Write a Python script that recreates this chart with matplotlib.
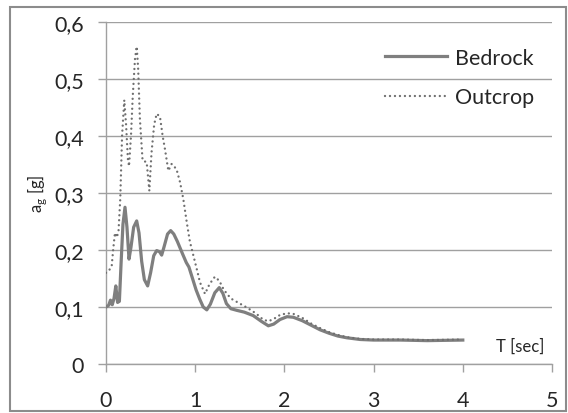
import numpy as np
import matplotlib
matplotlib.use('Agg')
import matplotlib.pyplot as plt
from matplotlib.patches import Rectangle

plt.rcParams['font.family'] = ['Lato', 'DejaVu Sans']

# ---------------- data ----------------
bedrock_T = [0.00, 0.03, 0.05, 0.07, 0.09, 0.11, 0.13, 0.15, 0.17, 0.19,
             0.213, 0.235, 0.258, 0.28, 0.31, 0.344, 0.37, 0.40, 0.43, 0.467,
             0.50, 0.535, 0.568, 0.60, 0.624, 0.65, 0.69, 0.725, 0.76, 0.80,
             0.84, 0.867, 0.90, 0.93, 0.97, 1.01, 1.05, 1.09, 1.13, 1.17,
             1.22, 1.27, 1.31, 1.35, 1.40, 1.47, 1.55, 1.65, 1.74, 1.82,
             1.88, 1.95, 2.03, 2.10, 2.20, 2.30, 2.40, 2.50, 2.60, 2.70,
             2.85, 3.00, 3.30, 3.60, 4.00]
bedrock_a = [0.100, 0.103, 0.112, 0.104, 0.115, 0.137, 0.108, 0.110, 0.180, 0.245,
             0.275, 0.240, 0.184, 0.205, 0.240, 0.251, 0.230, 0.180, 0.148, 0.137,
             0.160, 0.190, 0.199, 0.197, 0.191, 0.205, 0.228, 0.234, 0.228, 0.215,
             0.200, 0.190, 0.178, 0.170, 0.150, 0.130, 0.114, 0.100, 0.095, 0.105,
             0.125, 0.134, 0.124, 0.106, 0.097, 0.094, 0.091, 0.085, 0.075, 0.067,
             0.070, 0.078, 0.083, 0.082, 0.076, 0.068, 0.060, 0.054, 0.049, 0.046,
             0.043, 0.042, 0.042, 0.041, 0.042]

outcrop_T = [0.00, 0.03, 0.064, 0.08, 0.10, 0.12, 0.14, 0.16, 0.18, 0.205,
             0.225, 0.245, 0.258, 0.28, 0.30, 0.325, 0.344, 0.36, 0.38, 0.41,
             0.456, 0.486, 0.51, 0.54, 0.568, 0.605, 0.635, 0.661, 0.699, 0.736,
             0.79, 0.83, 0.867, 0.905, 0.94, 0.98, 1.02, 1.054, 1.11, 1.16,
             1.22, 1.27, 1.315, 1.36, 1.41, 1.50, 1.58, 1.65, 1.71, 1.76,
             1.82, 1.88, 1.95, 2.03, 2.10, 2.20, 2.30, 2.40, 2.50, 2.60,
             2.70, 2.85, 3.00, 3.30, 3.60, 4.00]
outcrop_a = [0.160, 0.163, 0.172, 0.200, 0.230, 0.222, 0.232, 0.290, 0.400, 0.463,
             0.420, 0.360, 0.347, 0.400, 0.470, 0.535, 0.557, 0.520, 0.430, 0.357,
             0.354, 0.304, 0.370, 0.420, 0.439, 0.434, 0.400, 0.377, 0.339, 0.351,
             0.342, 0.319, 0.289, 0.249, 0.215, 0.190, 0.165, 0.143, 0.123, 0.140,
             0.153, 0.146, 0.132, 0.122, 0.114, 0.106, 0.099, 0.092, 0.085, 0.078,
             0.075, 0.079, 0.086, 0.089, 0.088, 0.081, 0.071, 0.063, 0.056, 0.051,
             0.047, 0.044, 0.043, 0.043, 0.042, 0.043]

x_ticks = [0, 1, 2, 3, 4, 5]
y_ticks = [0, 0.1, 0.2, 0.3, 0.4, 0.5, 0.6]
y_labels = ['0', '0,1', '0,2', '0,3', '0,4', '0,5', '0,6']

# ---------------- plot ----------------
W, H = 568, 414
fig = plt.figure(figsize=(W / 100, H / 100), dpi=100)
ax = fig.add_axes([106 / W, 1 - 365 / H, (552 - 106) / W, (365 - 23) / H])

line_col = '#7f7f7f'
dot_col = '#6f6f6f'
grid_col = '#a0a0a0'
text_col = '#262626'

ax.plot(bedrock_T, bedrock_a, color=line_col, lw=2.3, label='Bedrock',
        solid_joinstyle='round', zorder=3)
ax.plot(outcrop_T, outcrop_a, color=dot_col, lw=1.7, linestyle=(0, (0.01, 2.1)),
        label='Outcrop', dash_capstyle='round', zorder=3)

ax.set_xlim(0, 5)
ax.set_ylim(0, 0.6)
ax.set_xticks(x_ticks)
ax.set_xticklabels([str(t) for t in x_ticks])
ax.set_yticks(y_ticks)
ax.set_yticklabels(y_labels)

ax.yaxis.grid(True, color=grid_col, lw=1)
ax.set_axisbelow(True)
for s in ['top', 'right']:
    ax.spines[s].set_visible(False)
ax.spines['left'].set_color(grid_col)
ax.spines['bottom'].set_color(grid_col)
ax.spines['left'].set_linewidth(1)
ax.spines['bottom'].set_linewidth(1)
ax.tick_params(axis='both', direction='out', length=6, width=1, color=grid_col,
               labelsize=15.5, labelcolor=text_col)
ax.tick_params(axis='y', pad=10)
ax.tick_params(axis='x', pad=13)

ax.text(4.91, 0.033, 'T [sec]', ha='right', va='center', fontsize=12,
        color=text_col)
fig.text(37 / W, 1 - 194 / H, r'a$_\mathregular{g}$ [g]', rotation=90,
         ha='center', va='center', fontsize=12, color=text_col)

leg = ax.legend(loc='upper left', bbox_to_anchor=(385 / W, 1 - 49 / H),
                bbox_transform=fig.transFigure, frameon=False, fontsize=15.5,
                handlelength=2.9, handletextpad=0.35, labelspacing=0.9,
                borderaxespad=0, borderpad=0)
for t in leg.get_texts():
    t.set_color(text_col)

fig.patches.append(Rectangle((10 / W, 1 - 412 / H), (566 - 10) / W, (412 - 8) / H,
                             transform=fig.transFigure, fill=False,
                             edgecolor='#8c8c8c', lw=1.5))

fig.savefig('out.png', dpi=100)
